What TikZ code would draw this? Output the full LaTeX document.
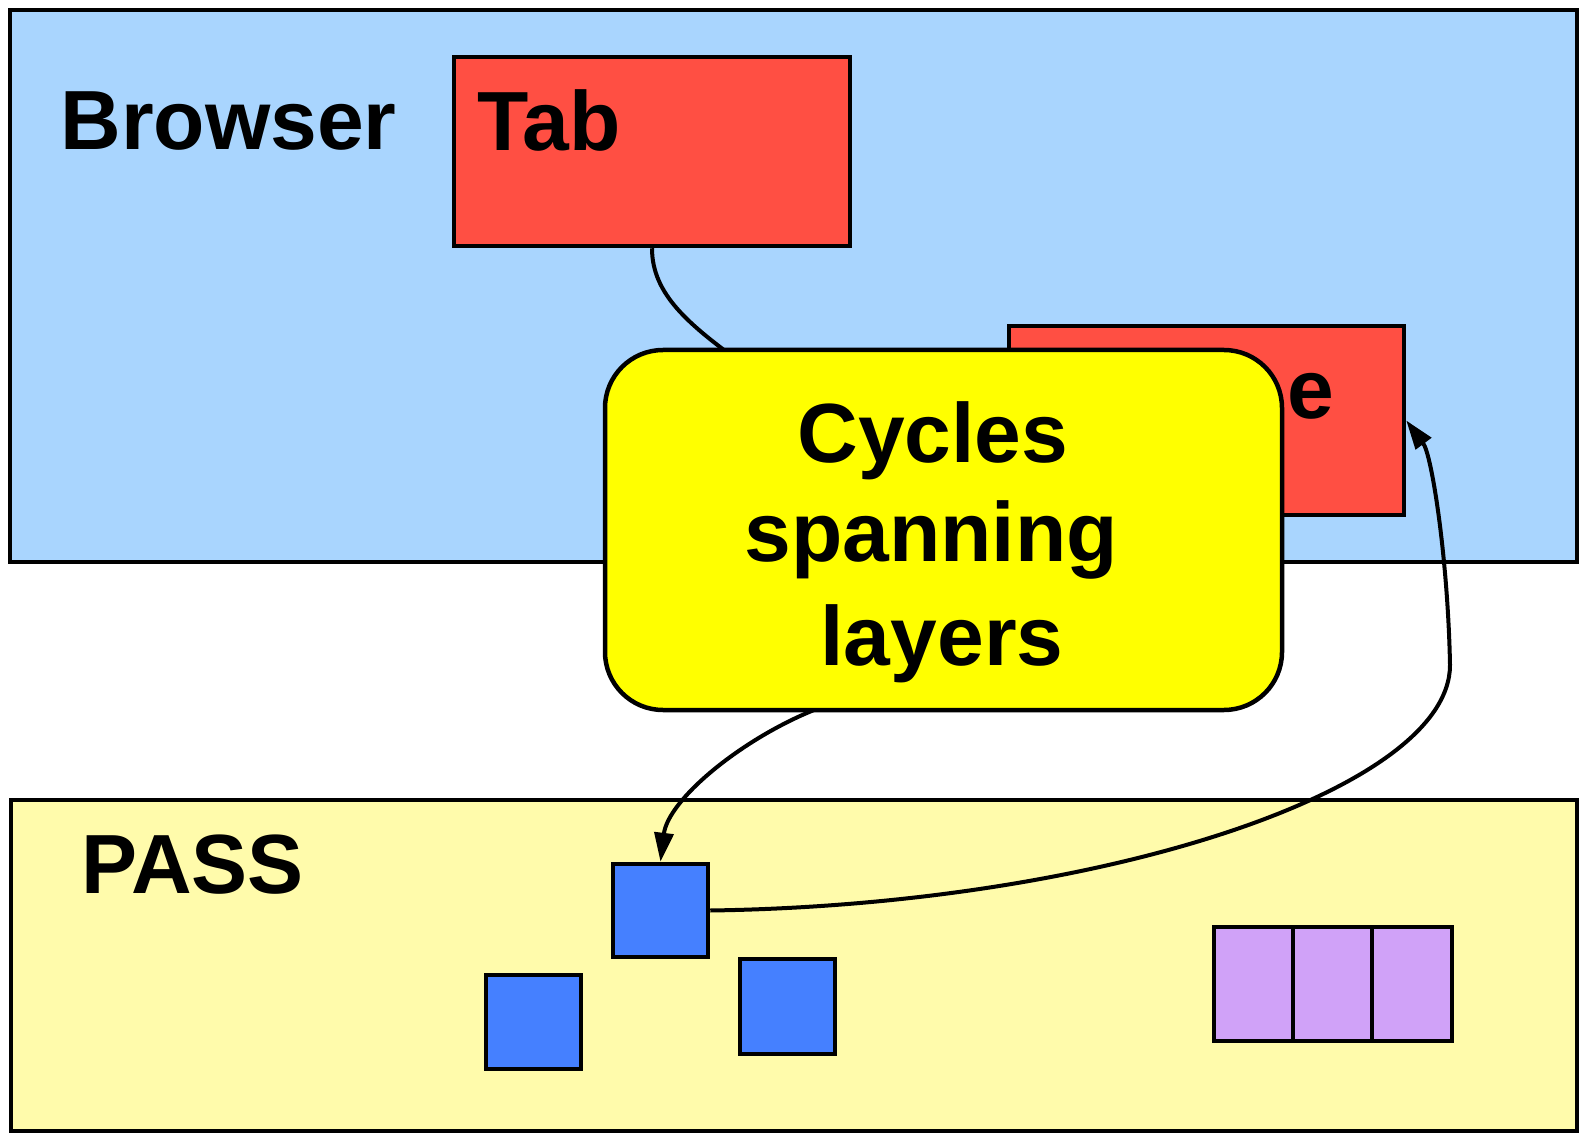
\documentclass[tikz,border=0pt]{standalone}
\usepackage{fontspec}
\setmainfont{Liberation Sans}
\usetikzlibrary{arrows.meta,fit}

\definecolor{browserbg}{HTML}{A9D5FE}
\definecolor{passbg}{HTML}{FFFBAB}
\definecolor{tabred}{HTML}{FF4F43}
\definecolor{cycyellow}{HTML}{FFFF00}
\definecolor{objblue}{HTML}{4580FF}
\definecolor{objpurple}{HTML}{D0A2F8}

\tikzset{
  box/.style={draw=black, line width=2.25pt, inner sep=0pt, rectangle},
  layerbox/.style={box, fill=#1},
  label/.style={inner sep=0pt, font=\fontsize{42}{50.5}\selectfont\bfseries},
  conn/.style={draw=black, line width=2pt},
  tip/.style={-{Triangle[length=14.5pt,width=9.5pt]}},
}

\begin{document}
\begin{tikzpicture}[x=0.5pt, y=-0.5pt]
  \useasboundingbox (0,0) rectangle (1579,1133);

  % layers
  \node[layerbox=browserbg, fit={(10,10) (1577,562)}] (browser) {};
  \node[layerbox=passbg, fit={(11,800) (1577,1131)}] (pass) {};
  \node[label, anchor=base west] (browserlbl) at (60,150) {Browser};
  \node[label, anchor=base west] (passlbl) at (81,893) {PASS};

  % browser-side objects
  \node[layerbox=tabred, fit={(454,57) (850,246)}] (tab) {};
  \node[label, anchor=base west] (tablbl) at (477,151) {Tab};
  \node[layerbox=tabred, fit={(1009,326) (1404,515)}] (red2) {};
  \node[label, anchor=base west] (red2lbl) at (1287,419) {e};

  % PASS-side objects
  \node[layerbox=objblue, fit={(613,864) (708,957)}] (blue1) {};
  \node[layerbox=objblue, fit={(486,975) (581,1069)}] (blue2) {};
  \node[layerbox=objblue, fit={(740,959) (835,1054)}] (blue3) {};
  \node[layerbox=objpurple, fit={(1214,927) (1293,1041)}] (pur1) {};
  \node[layerbox=objpurple, fit={(1293,927) (1372,1041)}] (pur2) {};
  \node[layerbox=objpurple, fit={(1372,927) (1452,1041)}] (pur3) {};

  % link from the tab, running under the callout
  \coordinate (tabend) at (740,362);
  \draw[conn] (tab.south) .. controls (652,295) and (690,325) .. (tabend);

  % callout
  \node[layerbox=cycyellow, rounded corners=29pt, fit={(605,350) (1282,710)}] (cycles) {};
  \node[label, anchor=base] (cyc1) at (933,463) {Cycles};
  \node[label, anchor=base] (cyc2) at (931,561) {spanning};
  \node[label, anchor=base] (cyc3) at (942,665) {layers};

  % cross-layer references
  \coordinate (cycout) at (814,710);
  \draw[conn, tip] (cycout) .. controls (740,740) and (668,800) .. (blue1.north);
  \draw[conn, tip] (blue1.east) .. controls (1100,905) and (1450,790) .. (1450,665)
                   .. controls (1448,560) and (1432,455) .. (red2.east);
\end{tikzpicture}
\end{document}
